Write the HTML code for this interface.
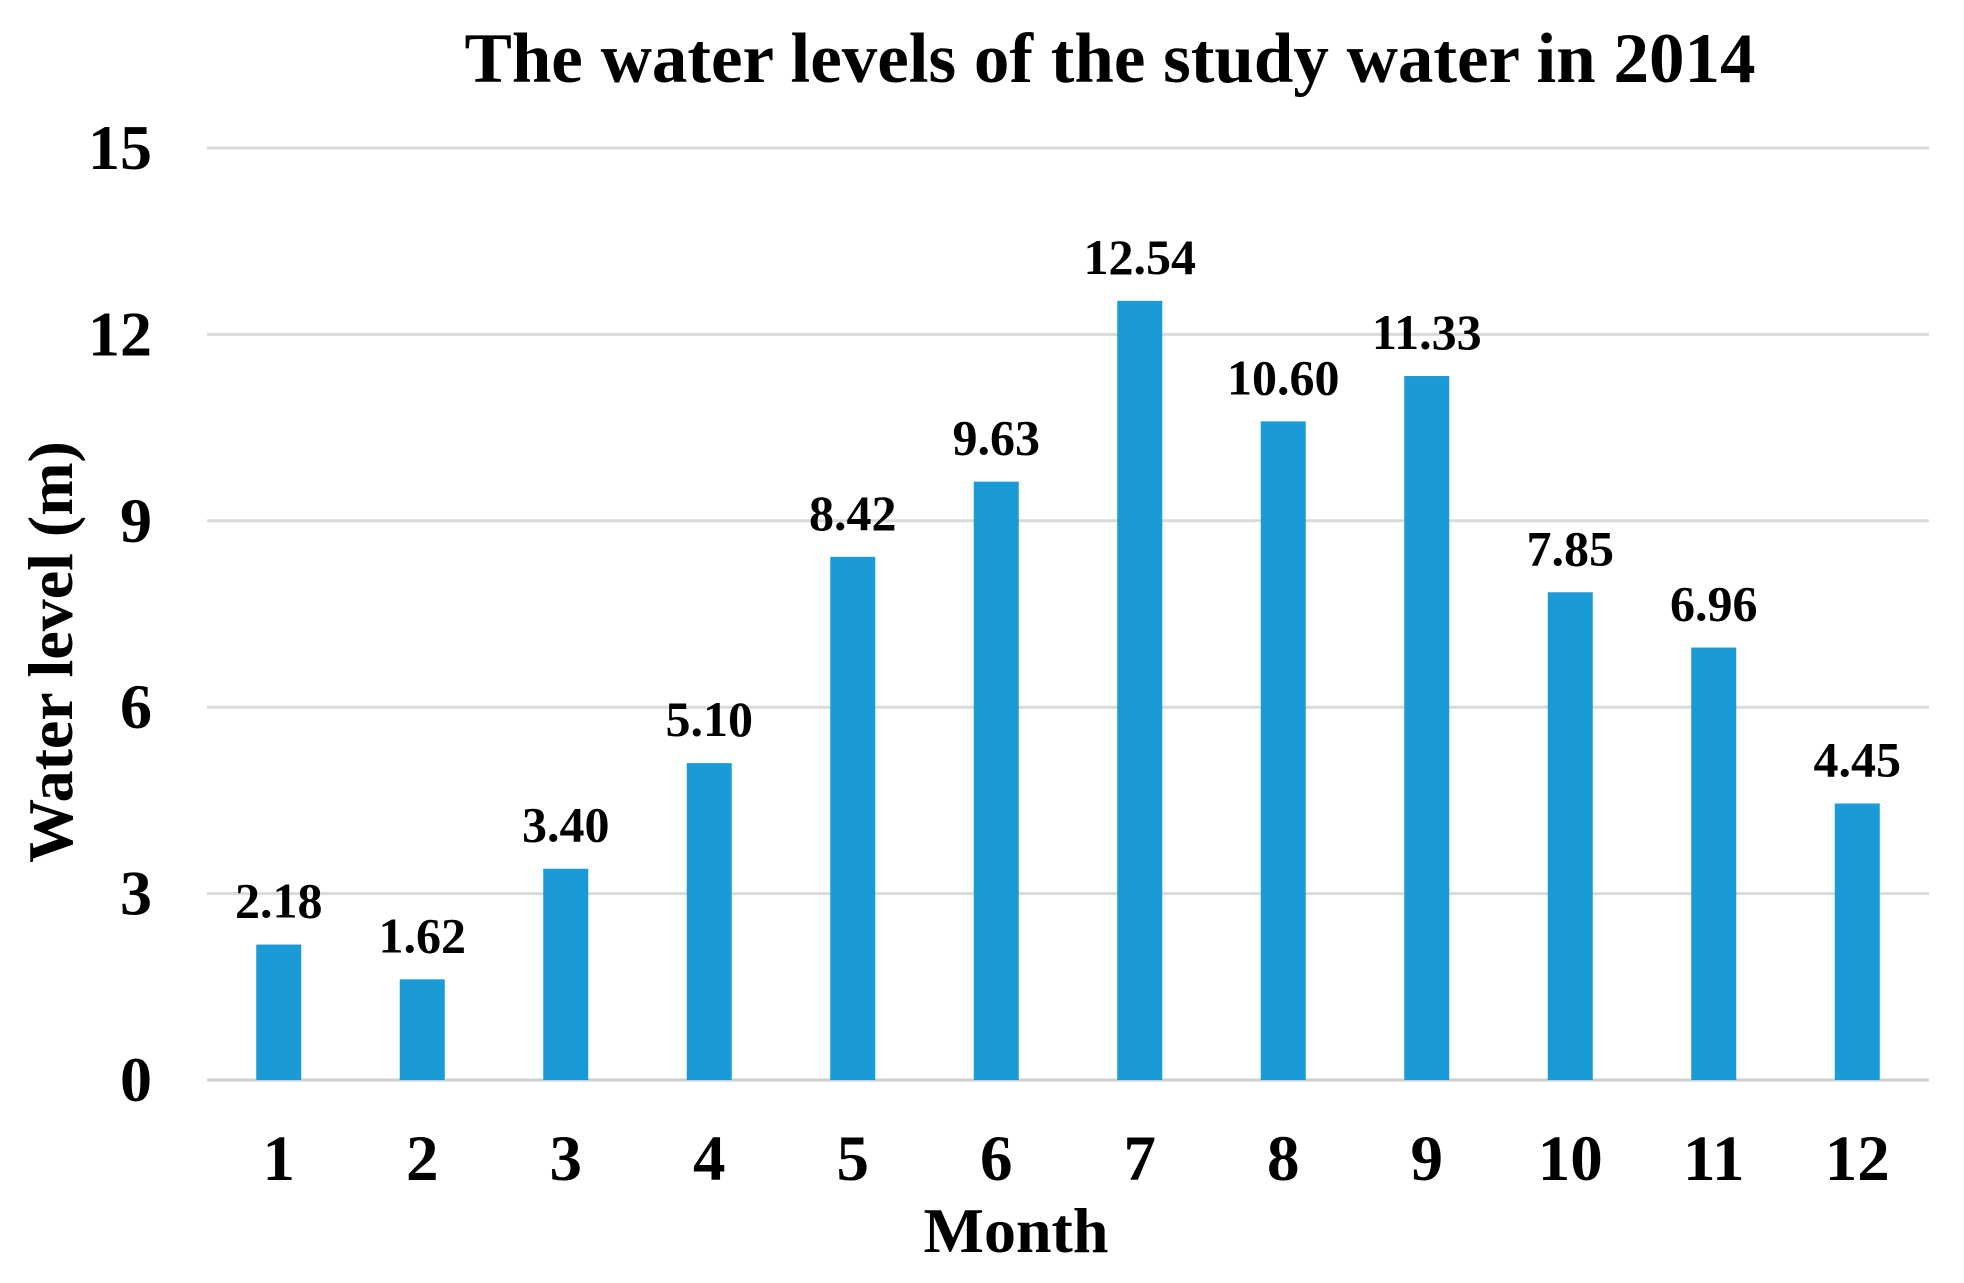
<!DOCTYPE html>
<html><head><meta charset="utf-8"><style>
html,body{margin:0;padding:0;background:#fff;}
svg{display:block;font-family:"Liberation Serif",serif;font-weight:bold;}
</style></head><body>
<svg id="chart" width="1964" height="1283" viewBox="0 0 1964 1283" xmlns="http://www.w3.org/2000/svg">
<text x="1110" y="82" font-size="71" text-anchor="middle">The water levels of the study water in 2014</text>
<g id="grid"></g><g id="bars"></g><g id="labels"></g>
<text x="1016" y="1252" font-size="64" text-anchor="middle">Month</text>
<text transform="translate(72,652) rotate(-90)" font-size="64" text-anchor="middle">Water level (m)</text>
</svg>
<script>
const categories=["1","2","3","4","5","6","7","8","9","10","11","12"];
const values=[2.18,1.62,3.40,5.10,8.42,9.63,12.54,10.60,11.33,7.85,6.96,4.45];
const valueLabels=["2.18","1.62","3.40","5.10","8.42","9.63","12.54","10.60","11.33","7.85","6.96","4.45"];
const yTicks=[0,3,6,9,12,15];
const L=207,R=1929,Y0=1080,Y15=148;
const y=v=>Y0-(v/15)*(Y0-Y15);
const bw=(R-L)/categories.length;
const x=i=>L+bw*(i+0.5);
const NS="http://www.w3.org/2000/svg";
const g=document.getElementById('grid'),b=document.getElementById('bars'),lb=document.getElementById('labels');
yTicks.forEach(t=>{
 const l=document.createElementNS(NS,'line');
 
 
 l.setAttribute('x1',L);l.setAttribute('x2',R);l.setAttribute('y1',y(t));l.setAttribute('y2',y(t));
 l.setAttribute('stroke',t===0?'#cfcfcf':'#dadada');l.setAttribute('stroke-width',3);
 g.appendChild(l);
 const tx=document.createElementNS(NS,'text');
 
 
 tx.setAttribute('x',152);tx.setAttribute('y',y(t)+21);tx.setAttribute('font-size',64);tx.setAttribute('text-anchor','end');
 tx.textContent=t;g.appendChild(tx);
});
categories.forEach((c,i)=>{
 const r=document.createElementNS(NS,'rect');
 
 
 const w=45;
 r.setAttribute('x',x(i)-w/2);r.setAttribute('y',y(values[i]));r.setAttribute('width',w);r.setAttribute('height',Y0-y(values[i]));
 r.setAttribute('fill','#1a9ad6');b.appendChild(r);
 const v=document.createElementNS(NS,'text');
 
 
 v.setAttribute('x',x(i));v.setAttribute('y',y(values[i])-27);v.setAttribute('font-size',50);v.setAttribute('text-anchor','middle');
 v.textContent=valueLabels[i];lb.appendChild(v);
 const t=document.createElementNS(NS,'text');
 
 
 t.setAttribute('x',x(i));t.setAttribute('y',1180);t.setAttribute('font-size',65);t.setAttribute('text-anchor','middle');
 t.textContent=c;lb.appendChild(t);
});
</script>
</body></html>
